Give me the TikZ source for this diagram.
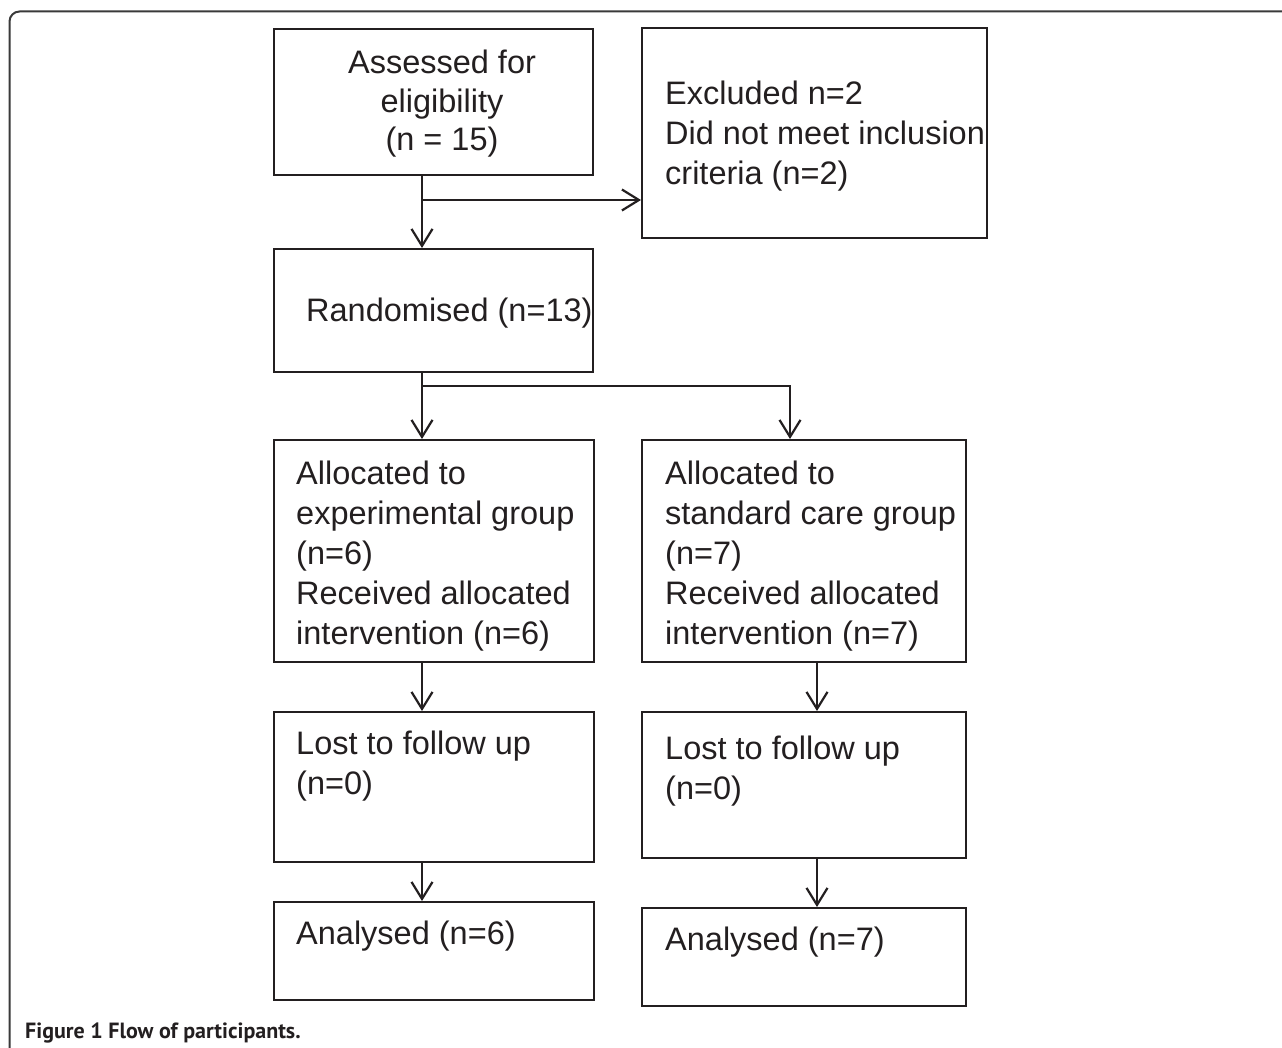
\documentclass[tikz,border=0pt]{standalone}
\usepackage{fontspec}
\setmainfont{Liberation Sans}
\newfontfamily\capfont{PT Sans}
\usetikzlibrary{arrows.meta}
\definecolor{ink}{HTML}{231F20}
\definecolor{framec}{HTML}{3A3A3A}
\newcommand\Lt[1]{\vtop{\baselineskip=40pt\halign{##\hfil\cr#1\crcr}}}
\newcommand\Ct[1]{\vtop{\baselineskip=38.5pt\halign{\hfil##\hfil\cr#1\crcr}}}
\begin{document}
\begin{tikzpicture}[x=1pt,y=-1pt,
  box/.style={draw=ink, line width=2pt, rectangle, inner sep=0pt},
  txt/.style={inner sep=0pt, text=ink, font=\fontsize{32.5pt}{40pt}\selectfont},
  conn/.style={draw=ink, line width=2pt},
  arr/.style={conn, -{Straight Barb[length=17pt,width=21pt,line width=2.2pt]}},
  frame/.style={draw=framec, line width=2pt, rounded corners=10pt}]
\useasboundingbox[fill=white] (0,0) rectangle (1282,1048);
% outer frame
\coordinate (f1) at (9.5,1048);
\coordinate (f2) at (9.5,11.5);
\coordinate (f3) at (1282,11.5);
\draw[frame] (f1) -- (f2) -- (f3);
% boxes
\node[box, minimum width=319pt, minimum height=146pt] (A)   at (433.5,102) {};
\node[box, minimum width=345pt, minimum height=210pt] (E)   at (814.5,133) {};
\node[box, minimum width=319pt, minimum height=123pt] (R)   at (433.5,310.5) {};
\node[box, minimum width=320pt, minimum height=222pt] (Ex)  at (434,551) {};
\node[box, minimum width=324pt, minimum height=222pt] (St)  at (804,551) {};
\node[box, minimum width=320pt, minimum height=150pt] (L1)  at (434,787) {};
\node[box, minimum width=324pt, minimum height=146pt] (L2)  at (804,785) {};
\node[box, minimum width=320pt, minimum height=98pt]  (An1) at (434,951) {};
\node[box, minimum width=324pt, minimum height=98pt]  (An2) at (804,957) {};
% texts
\node[txt, anchor=base] (tA) at (442,74) {\Ct{Assessed for\cr eligibility\cr (n = 15)}};
\node[txt, anchor=base west] (tE) at (665,105) {\Lt{Excluded n=2\cr Did not meet inclusion\cr criteria (n=2)}};
\node[txt, anchor=base west] (tR) at (306,322) {Randomised (n=13)};
\node[txt, anchor=base west] (tEx) at (296,484) {\Lt{Allocated to\cr experimental group\cr (n=6)\cr Received allocated\cr intervention (n=6)}};
\node[txt, anchor=base west] (tSt) at (665,484) {\Lt{Allocated to\cr standard care group\cr (n=7)\cr Received allocated\cr intervention (n=7)}};
\node[txt, anchor=base west] (tL1) at (296,754) {\Lt{Lost to follow up\cr (n=0)}};
\node[txt, anchor=base west] (tL2) at (665,759) {\Lt{Lost to follow up\cr (n=0)}};
\node[txt, anchor=base west] (tAn1) at (296,944) {Analysed (n=6)};
\node[txt, anchor=base west] (tAn2) at (665,950) {Analysed (n=7)};
% connector guides
\coordinate (cx) at (422,0);
\coordinate (cr) at (790,0);
\coordinate (cs) at (817,0);
\coordinate (b1) at (422,200);
\coordinate (b2) at (422,386);
% connectors
\draw[arr] (A.south -| cx) -- (R.north -| cx);
\draw[arr] (b1) -- (b1 -| E.west);
\draw[arr] (R.south -| cx) -- (Ex.north -| cx);
\draw[arr] (b2) -| (St.north -| cr);
\draw[arr] (Ex.south -| cx) -- (L1.north -| cx);
\draw[arr] (L1.south -| cx) -- (An1.north -| cx);
\draw[arr] (St.south -| cs) -- (L2.north -| cs);
\draw[arr] (L2.south -| cs) -- (An2.north -| cs);
% caption
\node[anchor=base west, inner sep=0pt, text=ink] (cap) at (25,1038)
  {\fontsize{22pt}{25pt}\selectfont\capfont\bfseries Figure 1 Flow of participants.};
\end{tikzpicture}
\end{document}
